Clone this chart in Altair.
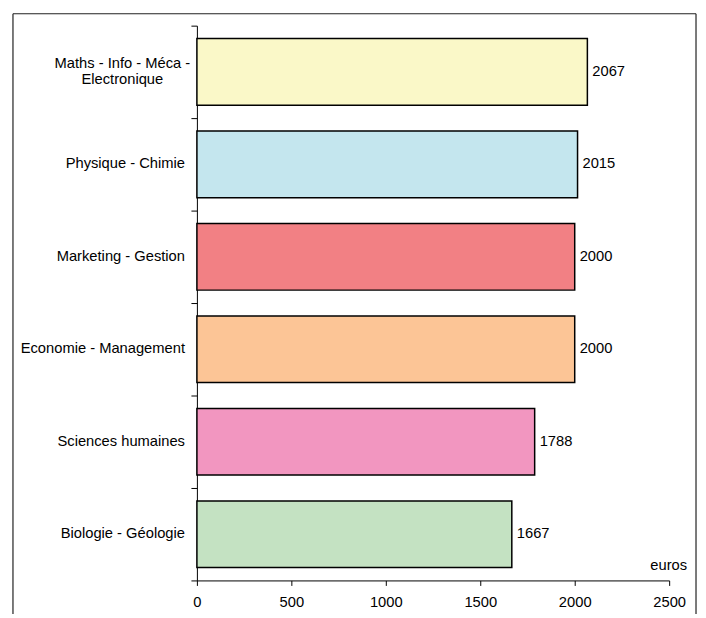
import altair as alt
import pandas as pd

categories = [
    "Maths - Info - Méca - Electronique",
    "Physique - Chimie",
    "Marketing - Gestion",
    "Economie - Management",
    "Sciences humaines",
    "Biologie - Géologie",
]
display_labels = [
    "Maths - Info - Méca -|Electronique",
    "Physique - Chimie",
    "Marketing - Gestion",
    "Economie - Management",
    "Sciences humaines",
    "Biologie - Géologie",
]
values = [2067, 2015, 2000, 2000, 1788, 1667]
colors = ["#FAF8C8", "#C4E6EE", "#F28084", "#FCC596", "#F296C0", "#C4E2C2"]
x_ticks = [0, 500, 1000, 1500, 2000, 2500]
unit_label = "euros"

W, H = 475, 558
FONT = "Liberation Sans"
FS = 14.8

df = pd.DataFrame({"cat": categories, "val": values, "lab": display_labels})
df["multi"] = df["lab"].str.contains("|", regex=False)
one = pd.DataFrame({"t": [unit_label]})

y_enc = alt.Y(
    "cat:N",
    sort=categories,
    scale=alt.Scale(paddingInner=0, paddingOuter=0),
    axis=alt.Axis(
        title=None,
        tickBand="extent",
        tickSize=6,
        tickColor="black",
        domainColor="black",
        labels=False,
    ),
)

x_enc = alt.X(
    "val:Q",
    scale=alt.Scale(domain=[0, 2500], nice=False),
    axis=alt.Axis(
        title=None,
        values=x_ticks,
        format="d",
        grid=False,
        tickSize=5,
        tickColor="black",
        domainColor="black",
        labelColor="black",
        labelFont=FONT,
        labelFontSize=FS,
        labelPadding=9,
        labelFlush=False,
    ),
)

bars = alt.Chart(df).mark_bar(size=67, stroke="black", strokeWidth=1.5).encode(
    y=y_enc,
    x=x_enc,
    color=alt.Color("cat:N", scale=alt.Scale(domain=categories, range=colors), legend=None),
)

values_text = alt.Chart(df).mark_text(
    align="left", baseline="middle", dx=5, font=FONT, fontSize=FS, color="black"
).encode(
    y=alt.Y("cat:N", sort=categories),
    x=alt.X("val:Q"),
    text=alt.Text("val:Q", format="d"),
)

cat_single = alt.Chart(df).transform_filter("!datum.multi").mark_text(
    align="right", baseline="middle", font=FONT, fontSize=FS, color="black"
).encode(
    y=alt.Y("cat:N", sort=categories),
    x=alt.value(-12),
    text="lab:N",
)

cat_multi = alt.Chart(df).transform_filter("datum.multi").mark_text(
    align="center", baseline="middle", font=FONT, fontSize=FS, color="black",
    lineBreak="|", lineHeight=16, dy=-8,
).encode(
    y=alt.Y("cat:N", sort=categories),
    x=alt.value(-75),
    text="lab:N",
)

unit = alt.Chart(one).mark_text(
    align="right", baseline="middle", font=FONT, fontSize=FS, color="black"
).encode(x=alt.value(493), y=alt.value(544), text="t:N")

frame_left = alt.Chart(one).mark_rule(color="#222", strokeWidth=1.2).encode(
    x=alt.value(-185), y=alt.value(-12), y2=alt.value(H + 60)
)
frame_right = alt.Chart(one).mark_rule(color="#222", strokeWidth=1.2).encode(
    x=alt.value(502), y=alt.value(-12), y2=alt.value(H + 60)
)
frame_top = alt.Chart(one).mark_rule(color="#222", strokeWidth=1.2).encode(
    x=alt.value(-185), x2=alt.value(502), y=alt.value(-12)
)

chart = alt.layer(
    bars, values_text, cat_single, cat_multi, unit, frame_left, frame_right, frame_top
).properties(
    width=W,
    height=H,
    autosize=alt.AutoSizeParams(type="none"),
    padding={"left": 190, "top": 16, "right": 29, "bottom": 32},
).configure_view(stroke=None)

chart.save("out.html", embed_options={"renderer": "svg", "actions": False})
